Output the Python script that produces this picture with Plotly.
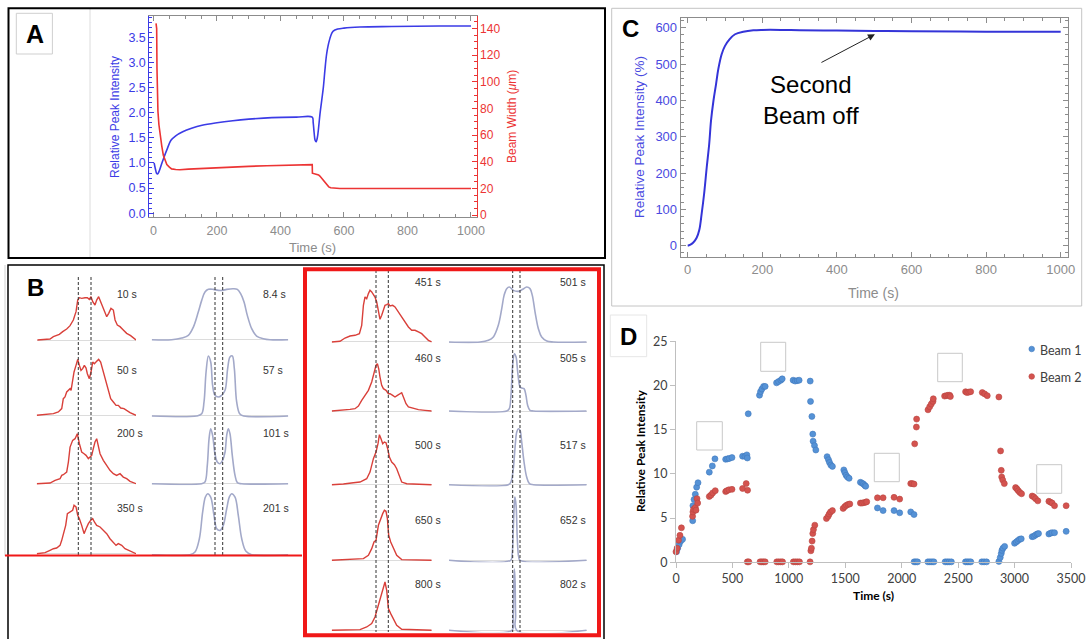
import plotly.graph_objects as go

W, H = 1086, 639
def PX(x): return x / W
def PY(y): return 1 - y / H

FONT = "Arial, Liberation Sans, sans-serif"
DFONT = "Lato, Open Sans, sans-serif"

# ---------------- Panel A data ----------------
a_time_int = [2, 6, 10, 13, 18, 26, 34, 42, 55, 70, 92, 120, 153, 200, 250, 300, 373, 450, 500, 503, 506, 509,
              512, 516, 520, 524, 530, 535, 540, 545, 550, 556, 561, 566, 580, 600, 650, 750, 900, 1000]
a_intensity = [1.0, 0.88, 0.79, 0.78, 0.84, 0.99, 1.13, 1.26, 1.45, 1.54, 1.62, 1.69, 1.75, 1.8, 1.84, 1.87, 1.9,
               1.91, 1.91, 1.8, 1.6, 1.45, 1.42, 1.5, 1.7, 1.95, 2.25, 2.5, 2.85, 3.15, 3.33, 3.48, 3.57, 3.62,
               3.66, 3.68, 3.7, 3.71, 3.72, 3.72]
a_time_w = [8, 10, 11, 12, 14, 17, 21, 26, 31, 36, 42, 50, 57, 70, 83, 110, 146, 200, 251, 300, 357, 420, 498,
            500, 500.5, 514, 520, 524, 530, 535, 540, 545, 552, 558, 570, 587, 700, 1000]
a_width = [144, 140, 110, 90, 78, 68, 60, 52, 45, 41, 38, 36, 34.7, 34.2, 34.1, 34.5, 35, 35.6, 36.1, 36.6, 37.1,
           37.5, 37.9, 37.9, 31.5, 30.6, 30.2, 29.3, 27.5, 25.6, 24, 22.5, 21.2, 20.5, 20.1, 20, 20, 20]

# ---------------- Panel C data ----------------
c_time = [0, 6, 15, 24, 31, 37.5, 44, 51, 57.6, 62.5, 69, 76, 82, 91, 100, 112, 127, 149, 176, 200, 250, 300,
          400, 500, 600, 800, 1000]
c_intensity = [0, 2, 9, 22, 43, 89, 143, 216, 280, 344, 399, 445, 486, 527, 550, 568, 582, 589, 593, 594, 594,
               593, 592, 591, 590, 589, 589]

# ---------------- Panel D data ----------------
d_beam1_t = [5, 15, 28, 42, 58, 148, 150, 160, 171, 183, 195, 295, 322, 345, 440, 457, 472, 496, 590, 611, 628,
             632, 640, 740, 749, 761, 776, 790, 891, 909, 929, 941, 1038, 1056, 1074, 1091, 1189, 1192, 1204,
             1212, 1215, 1227, 1239, 1339, 1351, 1360, 1372, 1386, 1487, 1496, 1507, 1519, 1534, 1634, 1649,
             1661, 1673, 1681, 1785, 1835, 1932, 1982, 2080, 2109,
             2110, 2125, 2140, 2232, 2250, 2268, 2285, 2385, 2403, 2420, 2440, 2565, 2580, 2596, 2612, 2710,
             2730, 2752,
             2861, 2873, 2882, 2888, 2897, 2912, 3000, 3015, 3029, 3044, 3059, 3156, 3171, 3186, 3200, 3212,
             3304, 3319, 3333, 3354, 3457]
d_beam1_v = [1.2, 1.6, 2.0, 2.4, 2.6, 4.7, 6.4, 7.1, 7.7, 8.5, 9.0, 10.2, 10.9, 11.7, 11.65, 11.7, 11.75, 11.85,
             12.0, 12.0, 12.15, 11.8, 16.8, 18.9, 19.3, 19.6, 19.9, 19.9, 20.3, 20.45, 20.6, 20.75, 20.6, 20.5,
             20.55, 20.6, 20.5, 18.2, 16.5, 14.5, 13.7, 13.2, 12.7, 11.95, 11.6, 11.3, 11.0, 10.85, 10.45, 10.15,
             9.85, 9.65, 9.5, 9.05, 8.95, 8.85, 8.7, 8.6, 6.15, 5.85, 5.85, 5.6, 5.7, 5.4,
             0.05, 0.05, 0.05, 0.05, 0.05, 0.05, 0.05, 0.05, 0.05, 0.05, 0.05, 0.05, 0.05, 0.05, 0.05, 0.05,
             0.05, 0.05,
             0.1, 0.55, 1.0, 1.35, 1.6, 1.8, 2.15, 2.3, 2.45, 2.6, 2.65, 2.9, 2.95, 3.1, 3.2, 3.25,
             3.2, 3.3, 3.35, 3.35, 3.5]
d_beam2_t = [0, 10, 22, 35, 48, 147, 150, 156, 171, 177, 186, 192, 295, 310, 325, 348, 440, 451, 469, 496, 590,
             622, 634,
             632, 645, 745, 760, 775, 790, 893, 910, 928, 944, 1040, 1058, 1076, 1094, 1188,
             1195, 1200, 1206, 1212, 1218, 1230, 1333, 1348, 1357, 1369, 1386, 1481, 1496, 1510, 1525, 1540,
             1634, 1649, 1664, 1681, 1690, 1785, 1835, 1932, 1982, 2080, 2094, 2109, 2115, 2130, 2132,
             2233, 2248, 2262, 2277, 2280, 2380, 2395, 2410, 2425, 2431, 2566, 2578, 2594, 2611, 2714, 2735,
             2758, 2861, 2876, 2882, 2886, 2895, 2909, 3009, 3021, 3033, 3047, 3062, 3156, 3171, 3186, 3206,
             3304, 3319, 3333, 3354, 3457]
d_beam2_v = [1.2, 1.6, 2.5, 3.05, 3.9, 5.2, 5.7, 6.0, 6.2, 5.9, 7.2, 6.7, 7.45, 7.6, 7.85, 8.1, 8.0, 8.1, 8.2,
             8.25, 8.35, 8.9, 8.15,
             0.05, 0.05, 0.05, 0.05, 0.05, 0.05, 0.05, 0.05, 0.05, 0.05, 0.05, 0.05, 0.05, 0.05, 0.05,
             1.3, 1.6, 2.4, 3.25, 3.7, 4.2, 4.95, 5.2, 5.45, 5.7, 5.85, 6.1, 6.3, 6.45, 6.55, 6.6,
             6.7, 6.7, 6.75, 6.8, 6.85, 7.3, 7.3, 7.35, 7.15, 8.9, 8.9, 8.85, 13.4, 15.3, 16.2,
             17.25, 17.6, 17.9, 18.2, 18.5, 18.8, 18.85, 18.9, 18.9, 18.75, 19.3, 19.2, 19.25, 19.3, 19.2, 19.05,
             18.85, 18.7, 12.6, 10.4, 9.65, 9.3, 8.9, 8.45, 8.3, 8.1, 7.9, 7.75, 7.5, 7.4, 7.2, 6.95,
             6.9, 6.8, 6.7, 6.4, 6.4]

# ---------------- Panel B data (position %, intensity % of peak) ----------------
b10_x = [0.7, 13.4, 16.8, 20.1, 22.8, 26.2, 30.2, 33.6, 36.9, 39.6, 41.3, 43.0, 45.3, 48.7, 51.0, 53.0, 54.7, 56.4,
         58.7, 60.4, 62.4, 64.4, 66.4, 68.8, 70.5, 72.5, 74.8, 77.2, 78.9, 81.2, 83.9, 87.2, 90.6, 94.6, 100]
b10_y = [0, 2.3, 7.7, 11.5, 13.1, 19.2, 25.4, 33.1, 46.2, 65.4, 92.3, 97.7, 96.2, 97.7, 97.7, 93.8, 100, 88.5, 80.8,
         92.3, 100, 88.5, 76.9, 61.5, 53.8, 61.5, 73.1, 69.2, 46.2, 34.6, 30.8, 23.1, 15.4, 10, 0]
b50_x = [0, 10.1, 16.8, 21.8, 25.2, 26.8, 28.5, 30.2, 31.9, 33.6, 34.6, 36.2, 37.6, 39.6, 41.3, 43.0, 44.6, 46.3,
         48.0, 49.7, 51.0, 53.0, 54.7, 56.4, 58.1, 60.4, 62.4, 64.4, 67.1, 69.8, 72.1, 74.5, 77.2, 79.9, 82.2,
         84.6, 87.9, 90.6, 94.0, 100]
b50_y = [0, 1.2, 2.9, 5.9, 11.8, 29.4, 32.4, 41.2, 44.1, 47.1, 44.1, 64.7, 76.5, 88.2, 98.8, 88.2, 79.4, 82.4, 88.2,
         83.5, 73.5, 64.7, 76.5, 94.1, 91.2, 95.3, 98.8, 94.1, 76.5, 58.8, 41.2, 29.4, 23.5, 17.6, 17.6, 12.9,
         11.8, 8.8, 4.7, 0]
b200_x = [0, 13.4, 18.5, 23.5, 25.2, 26.8, 30.2, 31.9, 33.6, 36.2, 38.6, 40.9, 43.0, 45.3, 47.7, 49.7, 52.0, 53.7,
          55.4, 57.0, 58.7, 60.4, 62.1, 63.8, 67.1, 70.5, 73.8, 77.2, 80.5, 83.9, 87.2, 90.6, 94.0, 100]
b200_y = [0, 1.3, 6.7, 10, 16.7, 18, 23.3, 43.3, 73.3, 86.7, 90, 100, 80, 63.3, 60, 56.7, 50, 53.3, 56.7, 70, 83.3,
          90, 73.3, 60, 46.7, 36.7, 26.7, 20, 16.7, 20, 13.3, 10, 4.7, 0]
b350_x = [0, 8.4, 13.4, 16.8, 20.1, 23.5, 25.2, 26.8, 29.2, 30.9, 33.6, 36.2, 37.6, 39.6, 41.3, 43.0, 45.3, 47.7,
          49.7, 52.0, 54.4, 56.4, 58.1, 60.4, 63.8, 67.1, 70.5, 73.8, 77.2, 79.9, 82.2, 85.6, 88.9, 92.3, 95.6, 100]
b350_y = [0, 2.1, 6.9, 10.3, 11.7, 17.2, 27.6, 41.4, 58.6, 82.8, 86.2, 89.7, 100, 96.6, 79.3, 72.4, 58.6, 41.4,
          51.7, 62.1, 69, 72.4, 65.5, 58.6, 55.2, 48.3, 41.4, 31, 24.1, 17.2, 20.7, 17.2, 10.3, 6.9, 3.4, 0]
b451_x = [0, 8.3, 13.3, 18.3, 23.3, 27.7, 30, 31.7, 33.3, 35, 36.7, 38.3, 40, 41.7, 43.3, 45, 46.7, 48.3, 50, 51.7,
          53.3, 55, 56.7, 58.3, 61, 63.3, 66.7, 70, 73.3, 76.7, 80, 83.3, 86.7, 90, 93.3, 96.7, 100]
b451_y = [0, 1.3, 7.6, 11.4, 12.7, 15.8, 31.6, 69.6, 85.4, 82.3, 91.8, 98.1, 94.9, 88.6, 85.4, 75.9, 57, 43, 50.6,
          63.3, 69.6, 70.9, 72.8, 68.4, 69.6, 66.5, 57, 47.5, 38, 28.5, 22.2, 22.2, 19, 15.8, 9.5, 3.2, 0]
b460_x = [0, 11.7, 18.3, 23.3, 26.7, 30, 33.3, 36.7, 40, 42.3, 44.3, 45.7, 47, 48.3, 50, 51.7, 54.3, 56.7, 58.3, 61,
          63.3, 65.7, 68.3, 70, 71.7, 74.3, 76.7, 81.7, 86.7, 93.3, 100]
b460_y = [0, 1.4, 3.5, 4.9, 10.6, 22.5, 33.1, 43.7, 61.3, 82.4, 96.5, 100, 89.4, 71.8, 54.2, 47.2, 43.7, 36.6, 36.6,
          33.1, 29.6, 33.1, 36.6, 38.7, 29.6, 15.5, 8.5, 4.9, 2.8, 1.4, 0]
b500_x = [0, 11.7, 21.7, 28.3, 35, 38.3, 41.7, 44.3, 46.3, 47.7, 49.3, 51, 52.7, 54.3, 56, 57.7, 60, 62.7, 65, 67.3,
          70, 75, 85, 100]
b500_y = [0, 1.3, 4, 5.3, 12, 25.3, 52, 65.3, 82, 100, 92, 82, 85.3, 84, 72, 55.3, 45.3, 40, 32, 18.7, 5.3, 2, 0.7, 0]
b650_x = [0, 18.3, 31.7, 36.7, 40, 42.3, 44.3, 46.7, 49, 51, 52.7, 54.3, 55.7, 57, 59, 61.7, 65, 70, 100]
b650_y = [0, 1.3, 3.3, 10, 23.3, 36.7, 40, 70, 83.3, 93.3, 100, 98, 83.3, 50, 36.7, 23.3, 10, 1.3, 0]
b800_x = [0, 28.3, 35, 40, 43.3, 45.7, 47.7, 50, 51.7, 53.3, 55, 56.7, 59, 61.7, 65, 70, 100]
b800_y = [0, 1.4, 6.9, 13.8, 27.6, 44.8, 58.6, 72.4, 89.7, 100, 82.8, 44.8, 34.5, 24.1, 10.3, 2.1, 0]

s8_x = [0, 14.6, 22, 26.8, 30.5, 34.1, 36.6, 39, 41.5, 45.1, 48.8, 51.9, 54.9, 59.8, 62.7, 65.1, 67.6, 70, 73.2,
        76.8, 81.7, 86.6, 100]
s8_y = [0, 0, 3.3, 8.5, 24.8, 54.2, 77.1, 93.5, 98.7, 98.7, 96.7, 96.7, 98.7, 100, 98.7, 90.2, 73.9, 47.7, 21.6, 7.2,
        2, 0, 0]
s57_x = [0, 32.9, 36.6, 38.3, 39.8, 41.5, 43.2, 44.6, 46.3, 48.8, 51.2, 53.7, 55.6, 57.3, 59, 60.5, 62.2, 64.4,
         67.3, 100]
s57_y = [0, 0, 3.8, 23.1, 72.5, 98.9, 89, 50.5, 34.1, 31.3, 34.1, 42.3, 78, 97.3, 98.9, 78, 23.1, 3.8, 0, 0]
s101_x = [0, 36.6, 39, 40.7, 42, 43.2, 44.6, 46.3, 48, 50, 51.9, 53.7, 54.9, 56.1, 57.3, 59, 61, 62.7, 65.9, 100]
s101_y = [0, 0, 3, 33.3, 81.8, 100, 87.9, 54.5, 39.4, 36.4, 42.4, 57.6, 87.9, 100, 90.9, 51.5, 15.2, 1.8, 0, 0]
s201_x = [0, 28, 31.7, 34.9, 37.3, 39.3, 41, 43.2, 45.6, 47.6, 50, 52.4, 54.9, 56.8, 58.5, 61, 63.4, 65.9, 69, 73.2,
          100]
s201_y = [0, 0, 4.4, 26.2, 69.9, 94.5, 100, 94.5, 64.5, 42.6, 39.9, 48.1, 75.4, 94.5, 100, 94.5, 64.5, 26.2, 5.5, 0,
          0]
s501_x = [0, 22.5, 28.6, 32.2, 35.8, 38.3, 40, 41.9, 43.8, 46.7, 50.4, 53.5, 56.4, 58.8, 60.5, 62.5, 64.9, 67.3, 71,
          75.8, 100]
s501_y = [0, 0, 3, 9.1, 30.3, 60.6, 84.8, 97, 100, 93.9, 92.1, 95.8, 100, 97, 84.8, 54.5, 24.2, 9.1, 1.8, 0, 0]
s505_x = [0, 41.9, 43.8, 45, 46.2, 47.5, 48.7, 49.9, 51.6, 52.8, 54.5, 55.9, 57.1, 58.8, 61.3, 100]
s505_y = [0, 0, 4.1, 27.3, 79.7, 100, 94.2, 68, 41.9, 40.1, 39, 27.3, 9.9, 1.2, 0, 0]
s517_x = [0, 43.1, 45, 46.7, 47.9, 49.2, 50.4, 51.6, 52.8, 54.5, 56.4, 58.4, 61.3, 100]
s517_y = [0, 0, 4.8, 28.6, 64.3, 94, 100, 97, 76.2, 40.5, 13.7, 1.8, 0, 0]
s652_x = [0, 44.8, 45.8, 46.7, 47.5, 47.9, 48.7, 49.6, 50.6, 51.6, 100]
s652_y = [0, 0, 7.9, 50, 92.1, 100, 86.8, 34.2, 5.3, 0, 0]
s802_x = [0, 45.8, 46.5, 47, 47.5, 48, 48.4, 49.2, 100]
s802_y = [0, 0, 13.5, 67.6, 100, 78.4, 24.3, 0, 0]

exp_labels = ["10 s", "50 s", "200 s", "350 s", "451 s", "460 s", "500 s", "650 s", "800 s"]
sim_labels = ["8.4 s", "57 s", "101 s", "201 s", "501 s", "505 s", "517 s", "652 s", "802 s"]
exp_series = [(b10_x, b10_y), (b50_x, b50_y), (b200_x, b200_y), (b350_x, b350_y), (b451_x, b451_y),
              (b460_x, b460_y), (b500_x, b500_y), (b650_x, b650_y), (b800_x, b800_y)]
sim_series = [(s8_x, s8_y), (s57_x, s57_y), (s101_x, s101_y), (s201_x, s201_y), (s501_x, s501_y),
              (s505_x, s505_y), (s517_x, s517_y), (s652_x, s652_y), (s802_x, s802_y)]

# ---------------- layout geometry (pixels) ----------------
exp_geom = [(36.7, 136, 296.7, 340), (36.7, 136, 358.7, 415.3), (36.7, 136, 433.7, 483.7), (36.7, 136, 505.3, 553.7),
            (331.7, 431.7, 289.3, 342), (331.7, 431.7, 363.7, 411), (331.7, 431.7, 434.7, 484.7),
            (331.7, 431.7, 510.3, 560.3), (331.7, 431.7, 582, 630.3)]
sim_geom = [(151.7, 288.3, 288.7, 339.7), (151.7, 288.3, 355.3, 416), (151.7, 288.3, 428.7, 483.7),
            (151.7, 288.3, 493.7, 554.7), (449, 586.7, 287, 342), (449, 586.7, 353.7, 411),
            (449, 586.7, 428.7, 484.7), (449, 586.7, 497, 560.3), (449, 586.7, 568.7, 630.3)]
exp_lab_pos = [(115, 294.3), (115, 370.3), (115, 432.7), (115, 507.7), (412.7, 282), (412.7, 357.7),
               (412.7, 445.3), (412.7, 520.3), (412.7, 583.7)]
sim_lab_pos = [(261, 294.3), (261, 370.3), (261, 432.7), (261, 507.7), (558.3, 282), (558.3, 357.7),
               (558.3, 445.3), (558.3, 520.3), (558.3, 583.7)]

fig = go.Figure()
layout = {}
annotations = []
shapes = []


def ann(text, x, y, size, color, family=FONT, angle=0, xanchor="center"):
    return dict(text=text, x=PX(x), y=PY(y), xref="paper", yref="paper", showarrow=False, textangle=angle,
                xanchor=xanchor, yanchor="middle", font=dict(family=family, size=size, color=color))


BLUE_A = "#3b3be6"
RED_A = "#ec3434"
GRAY = "#8c8c8c"

# ---------------- Panel A ----------------
fig.add_trace(go.Scatter(x=a_time_int, y=a_intensity, mode="lines", line=dict(color=BLUE_A, width=1.6),
                         xaxis="x", yaxis="y", showlegend=False, line_shape="spline"))
fig.add_trace(go.Scatter(x=a_time_w, y=a_width, mode="lines", line=dict(color=RED_A, width=1.6),
                         xaxis="x", yaxis="y2", showlegend=False))
layout["xaxis"] = dict(domain=[PX(149.3), PX(476.7)], range=[-13.2, 1018], anchor="y", tick0=0, dtick=200,
                       ticks="inside", ticklen=5, tickcolor=GRAY, showline=True, linecolor=GRAY, mirror="ticks",
                       showgrid=False, zeroline=False, tickfont=dict(family=FONT, size=12.5, color=GRAY),
                       ticklabelstandoff=2,
                       minor=dict(dtick=50, ticks="inside", ticklen=3, tickcolor=GRAY))
layout["yaxis"] = dict(domain=[PY(216.7), PY(16)], range=[-0.068, 3.92], anchor="x", tick0=0, dtick=0.5,
                       tickformat=".1f", ticks="inside", ticklen=5, tickcolor=BLUE_A, showline=True,
                       linecolor=BLUE_A, showgrid=False, zeroline=False,
                       tickfont=dict(family=FONT, size=12.5, color=BLUE_A),
                       minor=dict(dtick=0.1, ticks="inside", ticklen=2.5, tickcolor=BLUE_A))
layout["yaxis2"] = dict(range=[-1.2, 149.5], anchor="x", overlaying="y", side="right", tick0=0, dtick=20,
                        ticks="inside", ticklen=5, tickcolor=RED_A, showline=True, linecolor=RED_A,
                        showgrid=False, zeroline=False, tickfont=dict(family=FONT, size=12, color=RED_A),
                        minor=dict(dtick=5, ticks="inside", ticklen=2.5, tickcolor=RED_A))
annotations += [
    ann("Relative Peak Intensity", 115, 117, 12, BLUE_A, angle=-90),
    ann("Beam Width (<i>μ</i>m)", 512, 117, 12, RED_A, angle=-90),
    ann("Time (s)", 312.5, 247.3, 13, GRAY),
    ann("<b>A</b>", 34.5, 34, 25, "black"),
]
shapes += [
    dict(type="line", xref="paper", yref="paper", x0=PX(90), x1=PX(90), y0=PY(9), y1=PY(258),
         line=dict(color="#dcdcdc", width=1)),
    dict(type="rect", xref="paper", yref="paper", x0=PX(16.3), x1=PX(52.4), y0=PY(54), y1=PY(13.3),
         line=dict(color="#cfcfcf", width=1), fillcolor="rgba(0,0,0,0)"),
    dict(type="rect", xref="paper", yref="paper", x0=PX(8.5), x1=PX(605), y0=PY(258), y1=PY(8.3),
         line=dict(color="black", width=2)),
]

# ---------------- Panel C ----------------
BLUE_C = "#3434d8"
fig.add_trace(go.Scatter(x=c_time, y=c_intensity, mode="lines", line=dict(color=BLUE_C, width=2),
                         line_shape="spline", xaxis="x3", yaxis="y3", showlegend=False))
layout["xaxis3"] = dict(domain=[PX(680.7), PX(1068.3)], range=[-18.8, 1020.4], anchor="y3", tick0=0, dtick=200,
                        ticks="inside", ticklen=5, tickcolor=GRAY, showline=True, linecolor=GRAY, mirror="ticks",
                        showgrid=False, zeroline=False, tickfont=dict(family=FONT, size=13, color=GRAY),
                        minor=dict(dtick=50, ticks="inside", ticklen=3, tickcolor=GRAY))
layout["yaxis3"] = dict(domain=[PY(257.3), PY(18.3)], range=[-31.9, 625.9], anchor="x3", tick0=0, dtick=100,
                        ticks="inside", ticklen=5, tickcolor=GRAY, showline=True, linecolor=GRAY, mirror="ticks",
                        showgrid=False, zeroline=False, tickfont=dict(family=FONT, size=13, color="#4a4ae0"),
                        minor=dict(dtick=20, ticks="inside", ticklen=3, tickcolor=GRAY))
annotations += [
    ann("Relative Peak Intensity (%)", 639, 137, 13.5, "#4a4ae0", angle=-90),
    ann("Time (s)", 873, 293, 14, GRAY),
    ann("<b>C</b>", 630.5, 28.7, 24, "black"),
    dict(text="", x=502, y=582, xref="x3", yref="y3", ax=-55, ay=29, showarrow=True, arrowhead=2,
         arrowsize=1.4, arrowwidth=1, arrowcolor="#222"),
    ann("Second<br>Beam off", 810.5, 100, 24, "black"),
]
shapes.append(dict(type="rect", xref="paper", yref="paper", x0=PX(611.7), x1=PX(1081.7), y0=PY(306), y1=PY(8.3),
                   line=dict(color="#c4c4c4", width=1), fillcolor="rgba(0,0,0,0)"))

# ---------------- Panel D ----------------
fig.add_trace(go.Scatter(x=d_beam1_t, y=d_beam1_v, mode="markers", name="Beam 1", cliponaxis=False,
                         marker=dict(size=6, color="#5592d6", line=dict(color="#3f78bd", width=0.6)),
                         xaxis="x4", yaxis="y4", showlegend=False))
fig.add_trace(go.Scatter(x=d_beam2_t, y=d_beam2_v, mode="markers", name="Beam 2", cliponaxis=False,
                         marker=dict(size=6, color="#d4534f", line=dict(color="#b84440", width=0.6)),
                         xaxis="x4", yaxis="y4", showlegend=False))
DG = "#404040"
layout["xaxis4"] = dict(domain=[PX(676), PX(1071)], range=[0, 3500], anchor="y4", tick0=0, dtick=500,
                        ticks="outside", ticklen=5, tickcolor="#bfbfbf", showline=True, linecolor="#bfbfbf",
                        showgrid=False, zeroline=False, tickfont=dict(family=DFONT, size=12.5, color=DG))
layout["yaxis4"] = dict(domain=[PY(562.3), PY(341.3)], range=[0, 25], anchor="x4", tick0=0, dtick=5,
                        ticks="outside", ticklen=5, tickcolor="#bfbfbf", showline=True, linecolor="#bfbfbf",
                        showgrid=False, zeroline=False, tickfont=dict(family=DFONT, size=12.5, color=DG))
annotations += [
    ann("<b>Relative Peak Intensity</b>", 640, 451, 12, "black", family=DFONT, angle=-90),
    ann("<b>Time (s)</b>", 873.3, 595.5, 12, "black", family=DFONT),
    ann("<b>D</b>", 628.3, 336, 24, "black"),
    ann("Beam 1", 1038, 350, 12.5, DG, family=DFONT, xanchor="left"),
    ann("Beam 2", 1038, 377, 12.5, DG, family=DFONT, xanchor="left"),
]
for (cx, cy, col, lc) in [(1031.7, 349, "#5592d6", "#3f78bd"), (1031.7, 376.5, "#d4534f", "#b84440")]:
    shapes.append(dict(type="circle", xref="paper", yref="paper", x0=PX(cx - 2.8), x1=PX(cx + 2.8),
                       y0=PY(cy + 2.8), y1=PY(cy - 2.8), fillcolor=col, line=dict(color=lc, width=0.6)))
for (x0, y0, x1, y1) in [(696.7, 421.7, 722.3, 450), (760.7, 342.3, 785.7, 371.3), (874.3, 453.3, 899.3, 481.7),
                         (937.7, 353.3, 962.3, 381.7), (1036.7, 464.7, 1061.7, 493.3)]:
    shapes.append(dict(type="rect", xref="paper", yref="paper", x0=PX(x0), x1=PX(x1), y0=PY(y1), y1=PY(y0),
                       fillcolor="white", line=dict(color="#c8c8c8", width=1)))
shapes.append(dict(type="rect", xref="paper", yref="paper", x0=PX(610.3), x1=PX(646.7), y0=PY(356.7), y1=PY(315),
                   line=dict(color="#e6e6e6", width=1), fillcolor="rgba(0,0,0,0)"))

# ---------------- Panel B ----------------
RED_B = "#d9403a"
LAV_B = "#a3a9c9"
idx = 5
for series, geoms, labels, labpos, color, spline in [
        (exp_series, exp_geom, exp_labels, exp_lab_pos, RED_B, False),
        (sim_series, sim_geom, sim_labels, sim_lab_pos, LAV_B, True)]:
    for (xs, ys), (gx0, gx1, top, base), lab, (lx, ly) in zip(series, geoms, labels, labpos):
        pad = 0.03 * (base - top)
        fig.add_trace(go.Scatter(x=xs, y=ys, mode="lines", showlegend=False,
                                 line=dict(color=color, width=1.4 if not spline else 1.6),
                                 line_shape="spline" if spline else "linear",
                                 xaxis=f"x{idx}", yaxis=f"y{idx}"))
        layout[f"xaxis{idx}"] = dict(domain=[PX(gx0), PX(gx1)], range=[0, 100], anchor=f"y{idx}", visible=False)
        layout[f"yaxis{idx}"] = dict(domain=[PY(base + pad), PY(top - pad)], range=[-3, 103], anchor=f"x{idx}",
                                     showticklabels=False, ticks="", showline=False, showgrid=False,
                                     zeroline=True, zerolinecolor="#dcdcdc", zerolinewidth=1,
                                     layer="below traces")
        annotations.append(ann(lab, lx, ly, 10.5, "#333333", xanchor="left"))
        idx += 1

for (xpx, y0, y1) in [(78.3, 277, 555), (91, 277, 555), (215, 277, 555), (222.7, 277, 555),
                      (376, 270, 632), (388.3, 270, 632), (512.7, 270, 632), (520, 270, 632)]:
    shapes.append(dict(type="line", xref="paper", yref="paper", x0=PX(xpx), x1=PX(xpx), y0=PY(y0), y1=PY(y1),
                       line=dict(color="#333333", width=1, dash="3px,2px")))

annotations.append(ann("<b>B</b>", 35, 287, 24, "black"))
shapes += [
    dict(type="line", xref="paper", yref="paper", x0=PX(5), x1=PX(5), y0=PY(265), y1=PY(556),
         line=dict(color="#d0d0d0", width=1)),
    dict(type="rect", xref="paper", yref="paper", x0=PX(8), x1=PX(604), y0=PY(650), y1=PY(265),
         line=dict(color="black", width=1.5), fillcolor="rgba(0,0,0,0)"),
    dict(type="line", xref="paper", yref="paper", x0=PX(5), x1=PX(302), y0=PY(555.5), y1=PY(555.5),
         line=dict(color="#f01818", width=2)),
    dict(type="rect", xref="paper", yref="paper", x0=PX(305), x1=PX(599), y0=PY(635.3), y1=PY(269.3),
         line=dict(color="#f01818", width=4), fillcolor="rgba(0,0,0,0)"),
]

for k in list(layout.keys()):
    layout[k]["automargin"] = False

fig.update_layout(**layout)
fig.update_layout(template="none", width=W, height=H, margin=dict(l=0, r=0, t=0, b=0, pad=0),
                  paper_bgcolor="white", plot_bgcolor="white", showlegend=False,
                  annotations=annotations, shapes=shapes, font=dict(family=FONT))
fig.write_html("out.html")
